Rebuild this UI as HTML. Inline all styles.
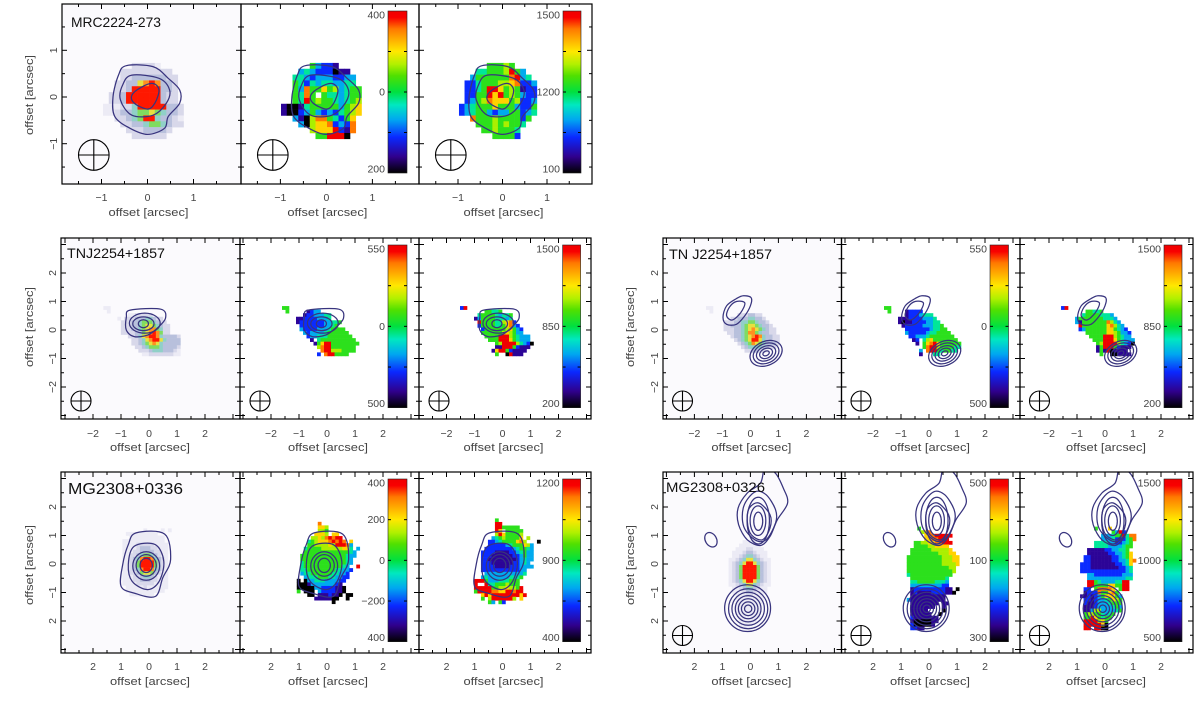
<!DOCTYPE html>
<html>
<head>
<meta charset="utf-8">
<title>Radio galaxy kinematic maps</title>
<style>
html,body{margin:0;padding:0;background:#fff;width:1200px;height:701px;overflow:hidden}
svg{display:block}
text{font-family:"Liberation Sans",sans-serif;fill:#444}
</style>
</head>
<body>
<svg id="figure" xmlns="http://www.w3.org/2000/svg" width="1200" height="701" viewBox="0 0 1200 701"></svg>
<script>
/* ---------- data: pixel maps, one level character per cell ('.' = no data) ---------- */
const mrcFlux=[".....22221....","...222222222..","...2233333322.","..22336787332.","..22388888332",".223888888322",".223888888322","11122488888332","11233455654332","..223458843321","...22334554322","....22233332..",".....222222..."];
const mrcVel=[".....53221....","...343222011..","..44323332233.","..54243443344.","..538557563455","..5485.5443455","..549565543456","10014555553567","10023532324567","..31068854257","...3067782328",".....67779218","......559990"];
const mrcSig=[".....55565....","...445556953..","..35555558934",".2245556678223",".2245997565122",".2255979565322",".2356877756223","23455575553225","23455323355234","..85556555525","...555656554","....5565554","......55552"];

const tnjFluxA=["11",".1",".......1122222","....1.22233344322",".....2223345554322",".....22233456654322",".....22233456775422",".....22223356787522",".......223467887433332","........22346788643333","........22345676433333",".........2234555433332","..........222344433321","...........11222222211"];
const tnjVelA=["55",".5.....1233","......12233344","....1122223334","....1222222233445",".....22222223345",".....3222233345555","......3233334555555",".......2334445555555","........1.45555555555",".........1579955555555","..........68995555555","...........8996665555","..........2.8995555"];
const tnjSigA=["29",".......55445",".....4555543445","....13555544434",".....95555446782",".....255554457832","......255555567532","......555555676533",".......5555999654333","........555999754333","..........56999964320","..........1199952111",".........1799521111","..........5..09111"];

const tnjFluxB=["11",".1",".........2223322",".......2233344332",".....2223344554332",".....22333456654332",".....222334567654322","......22334577543322",".......23345678743322","........2345688643322",".........234576543332","..........2344443322","...........2233221"];
const tnjVelB=["55",".5....12222","......12223444","....11122223334","....101122223344",".....122222333445","......222222234455","......3222223445555",".......2233345555555","........12.4675555555",".........1.57897555555","...........58996555544","..........3.899545544","..........1...44"];
const tnjSigB=["29",".......55445","......455554443","....355555554443","....3155555558643",".....9555555578643",".....23555555775432",".......5555557765332","........555599965433",".........555999754333","..........56999964320","..........1599952111","..........151901111","...........5..001111"];

const mgFluxA=["......1....1.1",".111111111","..1111111111","111111111111","1111222221111","1111233322111","1112233332211","1122345543211","1123478874321","1123588885321","1123588885321","1123478874321","1122356653211","1112234432111","1112233322111","1111222221111",".111112111111",".11111111111","..1111111"];
const mgVelA=["......8","......776","......665",".....7776.77","....667689899","...45677789898.7","...5566667699983","..45555666666774 3","..555555555555543",".5555555555555433",".555555555555543",".455555555555543",".45555555555543..9",".445555555544332",".34455555544332","..3444555443322","0.033444333322","0001333333321","00000332222110","5.000.32222110","...00.1112110.00",".....1111100..0","..........0"];
const mgSigA=["......5","......99","......9955555","......97.55555","......69755556",".....345655557 6","....22345555786...0","....2222234555763","...22222222345543","..222211112234533","..222111111223533","..221111111123433","..22211111122343","..222211112223333","..2222222222233","...333333333334","..343333334445","9995333444555","9..9445556555","99999556676659","59999887799899","..7979999999979","..5.69999996.7","....53.52."];

const mgFluxB=["....1111","...111111","..11122111",".1112332111",".1123443211","112346643211","123468864321","123588885321","123588885321","123588885321","123588885321","123468864321","112346643211",".1123443211",".1112332111","..11122111","..11111111","..11111111","..1111111","..1111111","..1111111","...111111","...11111","...1111","...111"];
const mgVelB=["....5",".....678","......78899999","......7788999","...55667788999","...5555667777","..555555666667","..5555555566677",".555555555566677",".555555555566677",".555555555566667",".55555555555566",".55555555555556",".4555555555555","..55555555554","..44555554443","..33333333322","..122222222211 0","..1211112222110","..1111111111",".31111111111","..11111111.11","..1111111..1","..11111....0","..111111..0","..21111111","..10000011","..2000001","..2211"];
const mgSigB=["....5...7",".........5392","......333455 9488","......3334222458","....44443322345","....44443333455","..111112233445","..1111112233457",".22111111223457",".221111112233478","222111111122347","222111111112234","222222222222234","..332222222233 3","..333333333334 4","..99543333 4499","..995555775599",".22.588887.599",".1222855785","112123577753",".22123345765",".21123334555",".1112333345 3",".11366333345",".566554345",".55975455",".9999675",".9999970",".99.9900"].map(row=>row.split(" ").join(""));

/* ---------- data: contours in arcsec ---------- */
const mrcContourOuter=[[-.46,.67],[.12,.65],[.45,.40],[.70,.15],[.70,-.13],[.45,-.42],[.37,-.67],[0,-.80],[-.38,-.67],[-.71,-.42],[-.75,0],[-.63,.47]];
const mrcContourMid=[[-.34,.47],[.25,.40],[.48,.15],[.41,-.13],[.12,-.39],[-.34,-.39],[-.59,-.06],[-.54,.26]];
const mrcContourInner=[[.12,.29],[.25,.15],[.16,-.13],[0,-.26],[-.29,-.13],[-.34,.04],[-.13,.21]];
const tnjContourA=[[-.67,.70],[.42,.73],[.59,.41],[.29,.06],[-.05,-.18],[-.53,-.23],[-.81,0],[-.81,.44]];
const tnjRingsA=[[-.15,.24,.55,.35,0],[-.2,.22,.38,.24,0],[-.2,.22,.18,.14,0]];
const tnjNorthOuter=[[.03,1.13],[0,.85],[-.2,.5],[-.5,.2],[-.85,.2],[-.98,.45],[-.85,.85],[-.5,1.1],[-.25,1.2]];
const tnjNorthInner=[[-.2,.95],[-.35,.6],[-.65,.35],[-.85,.5],[-.75,.8],[-.5,1.0]];
const tnjRingsB=[[.56,-.82,.6,.42,25],[.56,-.82,.48,.34,25],[.56,-.82,.36,.25,25],[.56,-.82,.24,.17,25],[.56,-.82,.12,.08,25]];
const mgContourOuterA=[[-.46,1.09],[.56,1.05],[.77,.15],[.49,-.49],[.22,-1.14],[-.53,-1.02],[-1.0,-.78],[-.94,-.02],[-.74,.68]];
const mgContourMidA=[[-.53,.62],[.22,.68],[.53,.09],[.36,-.61],[-.05,-.9],[-.6,-.61],[-.74,-.02]];
const mgRingsA=[[-.1,-.07,.48,.5,0],[-.1,-.05,.36,.38,0],[-.1,-.05,.22,.25,0]];
const mgJetOuter=[[.52,3.36],[.9,3.18],[1.17,2.67],[1.33,2.14],[.96,1.55],[.7,.97],[.36,.65],[-.11,.85],[-.42,1.38],[-.44,1.96],[-.11,2.49],[.36,2.84]];
const mgJetSecond=[[.16,2.53],[.56,2.43],[.9,1.9],[.9,1.44],[.56,.85],[.16,.85],[-.24,1.32],[-.24,2.02]];
const mgJetThird=[[.3,2.14],[.7,1.73],[.7,1.26],[.43,.85],[.03,1.03],[-.11,1.5],[-.04,1.96]];
const mgRingsB=[[.28,1.52,.4,.82,0],[.27,1.52,.28,.52,0],[.28,1.5,.16,.32,0],[-1.41,.85,.2,.27,30],[-.1,-1.55,.82,.82,0],[-.08,-1.57,.7,.7,0],[-.08,-1.57,.58,.58,0],[-.08,-1.57,.46,.46,0],[-.08,-1.57,.35,.35,0],[-.08,-1.57,.24,.24,0],[-.08,-1.57,.13,.13,0]];

/* ---------- data: axis ticks and labels ---------- */
const ticksRow1=[-1,0,1];
const xLabelsRow1=["\u22121","0","1"];
const yLabelsRow1=["\u22121","0","1"];
const ticksWide=[-2,-1,0,1,2];
const xLabelsRow2=["\u22122","\u22121","0","1","2"];
const yLabelsRow2=["\u22122","\u22121","0","1","2"];
const xLabelsRow3=["2","1","0","1","2"];
const yLabelsRow3=["2","\u22121","0","1","2"];
const axisTitle="offset [arcsec]";
const barMrcVel=["200","0","400"];
const barMrcSig=["100","1200","1500"];
const barTnjVel=["500","0","550"];
const barTnjSig=["200","850","1500"];
const barMgVelA=["400","\u2212200","0","200","400"];
const barMgSigA=["400","900","1200"];
const barMgVelB=["300","100","500"];
const barMgSigB=["500","1000","1500"];

/* ---------- colour scales (fractions on a 0..1 colour axis) ---------- */
const rainbowStops=[[0,"#000000"],[.1,"#30008c"],[.22,"#0a28ff"],[.33,"#00a8f0"],[.42,"#00e8c0"],[.5,"#00e040"],[.6,"#50e000"],[.67,"#b0f000"],[.75,"#ffe800"],[.89,"#ff7800"],[.96,"#f80000"],[1,"#f00000"]];
const fluxPalette=["#fbfafd","#ecebf5","#d8d8ea","#b8c0dc","#90d0c8","#80dc60","#e8e040","#ff9020","#ff1800"];

const NS="http://www.w3.org/2000/svg";
const svg=document.getElementById("figure");
function el(tag,attrs,parent){const e=document.createElementNS(NS,tag);for(const k in attrs)e.setAttribute(k,attrs[k]);(parent||svg).appendChild(e);return e;}
function hex(c){return [1,3,5].map(i=>parseInt(c.substr(i,2),16));}
function rainbow(v){
  v=Math.max(0,Math.min(1,v));
  for(let i=1;i<rainbowStops.length;i++){
    const a=rainbowStops[i-1],b=rainbowStops[i];
    if(v<=b[0]){const t=(v-a[0])/(b[0]-a[0]);const ca=hex(a[1]),cb=hex(b[1]);
      return "rgb("+ca.map((x,j)=>Math.round(x+(cb[j]-x)*t)).join(",")+")";}
  }
  return rainbowStops[rainbowStops.length-1][1];
}
function smoothClosed(pts){
  let d="M"+pts[0][0].toFixed(1)+" "+pts[0][1].toFixed(1);const n=pts.length;
  for(let i=0;i<n;i++){
    const p0=pts[(i-1+n)%n],p1=pts[i],p2=pts[(i+1)%n],p3=pts[(i+2)%n];
    d+="C"+(p1[0]+(p2[0]-p0[0])/6).toFixed(1)+" "+(p1[1]+(p2[1]-p0[1])/6).toFixed(1)+" "+(p2[0]-(p3[0]-p1[0])/6).toFixed(1)+" "+(p2[1]-(p3[1]-p1[1])/6).toFixed(1)+" "+p2[0].toFixed(1)+" "+p2[1].toFixed(1);
  }
  return d+"Z";
}

/* shared gradient for all colour bars */
const defs=el("defs",{});
const grad=el("linearGradient",{id:"rainbowBar",x1:0,y1:1,x2:0,y2:0},defs);
rainbowStops.forEach(s=>{el("stop",{offset:s[0],"stop-color":s[1]},grad);});

const xA=[663,841.5,1020,1193];
const xL=[61,240,419,591];
const figures=[
 {id:"mrc",title:"MRC2224-273",tx:71,ty:27,tw:90,tf:14,top:4,bot:184,edges:[62,241,419,592],ox:[147.5,326.4,502.5],oy:97,sx:[46,46,44.5],sy:46.7,
  ticks:ticksRow1,xl:xLabelsRow1,yl:yLabelsRow1,tickY:201,titleY:216,ylx:33,ylc:95,
  maps:[[mrcFlux,-.967,.73],[mrcVel,-.987,.73],[mrcSig,-.978,.73]],
  polys:[mrcContourOuter,mrcContourMid,mrcContourInner],rings:[],beam:[31.8,29,15.3],
  bars:[[388,19,11,173,barMrcVel],[563,18,11,173,barMrcSig]]},
 {id:"tnj-left",title:"TNJ2254+1857",tx:67,ty:258,tw:98,tf:14,top:238,bot:419,edges:xL,ox:[149,327,502.5],oy:330,sx:[28,28,28],sy:28.5,
  ticks:ticksWide,xl:xLabelsRow2,yl:yLabelsRow2,tickY:437,titleY:451,ylx:33,ylc:327,
  maps:[[tnjFluxA,-1.63,.84],[tnjVelA,-1.607,.84],[tnjSigA,-1.518,.84]],
  polys:[tnjContourA],rings:tnjRingsA,beam:[20,18,10],
  bars:[[388,19,245,407.7,barTnjVel],[562.6,18,245,407.7,barTnjSig]]},
 {id:"mg-left",title:"MG2308+0336",tx:68,ty:494,tw:115,tf:16,top:472,bot:653,edges:xL,ox:[149,327,502.5],oy:564,sx:[28,28,28],sy:28.5,
  ticks:ticksWide,xl:xLabelsRow3,yl:yLabelsRow3,tickY:670,titleY:685,ylx:33,ylc:565,
  maps:[[mgFluxA,-.95,1.25],[mgVelA,-1.08,1.48],[mgSigA,-1.02,1.60]],
  polys:[mgContourOuterA,mgContourMidA],rings:mgRingsA,beam:null,
  bars:[[388,19,479,641.7,barMgVelA],[562.6,18,479,641.7,barMgSigA]]},
 {id:"tnj-right",title:"TN J2254+1857",tx:669,ty:259,tw:103,tf:14,top:238,bot:419,edges:xA,ox:[750.4,929,1105],oy:330,sx:[28,28,28],sy:28.5,
  ticks:ticksWide,xl:xLabelsRow2,yl:yLabelsRow2,tickY:437,titleY:451,ylx:634,ylc:327,
  maps:[[tnjFluxB,-1.586,.84],[tnjVelB,-1.607,.84],[tnjSigB,-1.57,.84]],
  polys:[tnjNorthOuter,tnjNorthInner],rings:tnjRingsB,beam:[19.5,18,10],
  bars:[[990,18.5,245,407.7,barTnjVel],[1164,18,245,407.7,barTnjSig]]},
 {id:"mg-right",title:"MG2308+0326",tx:666,ty:492,tw:99,tf:14,top:472,bot:653,edges:xA,ox:[750.4,929,1105],oy:564,sx:[28,28,28],sy:28.5,
  ticks:ticksWide,xl:xLabelsRow3,yl:yLabelsRow3,tickY:670,titleY:685,ylx:634,ylc:565,
  maps:[[mgFluxB,-.78,.84],[mgVelB,-.92,1.31],[mgSigB,-.89,1.31]],
  polys:[mgJetOuter,mgJetSecond,mgJetThird],rings:mgRingsB,beam:[19.5,17.5,10],
  bars:[[990,18.5,479,641.7,barMgVelB],[1164,18,479,641.7,barMgSigB]]}
];
const CELL=0.125;
const panelKinds=["flux","velocity","dispersion"];

figures.forEach(f=>{
  const group=el("g",{});
  
  
  for(let p=0;p<3;p++){
    const left=f.edges[p],right=f.edges[p+1];
    const X=v=>f.ox[p]+v*f.sx[p];
    const Y=v=>f.oy-v*f.sy;
    const pg=el("g",{},group);
    
    
    const clipId="clip-"+f.id+"-"+p;
    const cp=el("clipPath",{id:clipId},defs);
    el("rect",{x:left,y:f.top,width:right-left,height:f.bot-f.top},cp);
    if(p===0){
      const bg=el("rect",{x:left,y:f.top,width:right-left,height:f.bot-f.top,fill:fluxPalette[0]},pg);
      
      
    }
    /* heatmap cells */
    const m=f.maps[p];
    m[0].forEach((row,r)=>{
      for(let c=0;c<row.length;c++){
        const ch=row[c];
        if(ch==="."||ch===" ")continue;
        const level=parseInt(ch,10);
        const fill=p===0?fluxPalette[Math.min(level,8)]:rainbow(level/9);
        const xa=X(m[1]+c*CELL),xb=X(m[1]+(c+1)*CELL),ya=Y(m[2]-r*CELL),yb=Y(m[2]-(r+1)*CELL);
        const cell=el("rect",{x:xa.toFixed(2),y:ya.toFixed(2),width:(xb-xa+.3).toFixed(2),height:(yb-ya+.3).toFixed(2),fill:fill},pg);
        
        
      }
    });
    /* contours */
    const cg=el("g",{"clip-path":"url(#"+clipId+")",fill:"none",stroke:"#38347e","stroke-width":1.25},pg);
    
    
    f.polys.forEach(poly=>{
      const path=el("path",{d:smoothClosed(poly.map(q=>[X(q[0]),Y(q[1])]))},cg);
      
      
    });
    f.rings.forEach(e=>{
      const cx=X(e[0]),cy=Y(e[1]);
      const ring=el("ellipse",{cx:cx,cy:cy,rx:e[2]*f.sx[p],ry:e[3]*f.sy,transform:"rotate("+(-e[4])+" "+cx+" "+cy+")"},cg);
      
      
    });
    /* beam */
    if(f.beam){
      const bx=left+f.beam[0],by=f.bot-f.beam[1],br=f.beam[2];
      const bg2=el("g",{fill:"none",stroke:"#000","stroke-width":1.1},pg);
      
      
      el("circle",{cx:bx,cy:by,r:br},bg2);
      el("line",{x1:bx-br,y1:by,x2:bx+br,y2:by},bg2);
      el("line",{x1:bx,y1:by-br,x2:bx,y2:by+br},bg2);
    }
    /* frame and ticks */
    const frame=el("rect",{x:left,y:f.top,width:right-left,height:f.bot-f.top,fill:"none",stroke:"#000","stroke-width":1.2},pg);
    
    
    const tg=el("g",{stroke:"#000","stroke-width":1},pg);
    
    
    for(let q=-8;q<=8;q++){
      const v=q/2,len=q%2===0?5:3;
      const px=X(v),py=Y(v);
      if(px>left+2&&px<right-2){
        el("line",{x1:px,y1:f.bot,x2:px,y2:f.bot-len},tg);
        el("line",{x1:px,y1:f.top,x2:px,y2:f.top+len},tg);
      }
      if(py>f.top+2&&py<f.bot-2){
        el("line",{x1:left,y1:py,x2:left+len,y2:py},tg);
        el("line",{x1:right,y1:py,x2:right-len,y2:py},tg);
      }
    }
    /* x tick labels and title */
    f.ticks.forEach((v,i)=>{
      const t=el("text",{x:X(v),y:f.tickY,"text-anchor":"middle","font-size":10.5},pg);
      t.textContent=f.xl[i];
      
      
    });
    const xt=el("text",{x:X(0)+1,y:f.titleY,"text-anchor":"middle","font-size":11,textLength:80,lengthAdjust:"spacingAndGlyphs"},pg);
    xt.textContent=axisTitle;
    
    
    if(p===0){
      f.ticks.forEach((v,i)=>{
        const yp=Y(v),xp=left-5;
        const t=el("text",{x:xp,y:yp,"text-anchor":"middle","font-size":10.5,transform:"rotate(-90 "+xp+" "+yp+")"},pg);
        t.textContent=f.yl[i];
        
        
      });
      const yt=el("text",{x:f.ylx,y:f.ylc,"text-anchor":"middle","font-size":11,textLength:80,lengthAdjust:"spacingAndGlyphs",transform:"rotate(-90 "+f.ylx+" "+f.ylc+")"},pg);
      yt.textContent=axisTitle;
      
      
      const title=el("text",{x:f.tx,y:f.ty,"font-size":f.tf,textLength:f.tw,lengthAdjust:"spacingAndGlyphs"},pg);
      title.style.fill="#111";
      title.textContent=f.title;
      
      
    }
  }
  /* colour bars */
  f.bars.forEach((b,bi)=>{
    const bg3=el("g",{},group);
    
    
    el("rect",{x:b[0],y:b[2],width:b[1],height:b[3]-b[2],fill:"url(#rainbowBar)",stroke:"#222","stroke-width":.6},bg3);
    [.25,.5,.75].forEach(t=>{
      const yy=b[3]-t*(b[3]-b[2]);
      el("line",{x1:b[0],y1:yy,x2:b[0]+3,y2:yy,stroke:"#000","stroke-width":1},bg3);
      el("line",{x1:b[0]+b[1],y1:yy,x2:b[0]+b[1]-3,y2:yy,stroke:"#000","stroke-width":1},bg3);
    });
    const n=b[4].length;
    b[4].forEach((lab,i)=>{
      const t=i/(n-1);
      let yy=b[3]-t*(b[3]-b[2]);
      yy=Math.max(b[2]+4,Math.min(b[3]-4,yy));
      const label=el("text",{x:b[0]-3,y:yy+3.5,"text-anchor":"end","font-size":10.5},bg3);
      label.textContent=lab;
      
      
    });
  });
});
</script>
</body>
</html>
